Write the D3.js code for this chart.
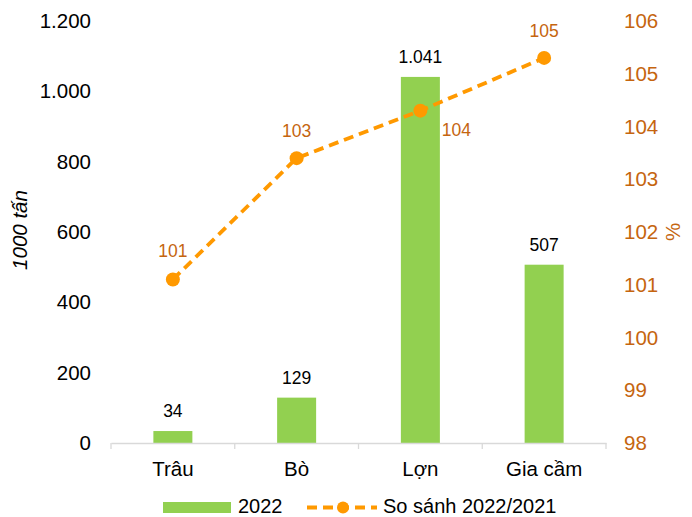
<!DOCTYPE html>
<html><head><meta charset="utf-8">
<script src="https://cdn.jsdelivr.net/npm/d3@7"></script>
<style>body{margin:0;background:#fff;} text{font-family:Arial,"Liberation Sans",sans-serif;}</style>
</head><body>
<svg id="c" width="692" height="517"></svg>
<script>
const categories = ["Trâu","Bò","Lợn","Gia cầm"];
const values2022 = [34,129,1041,507];
const barLabels = ["34","129","1.041","507"];
const ratio = [101.1,103.4,104.3,105.3];
const ratioLabels = ["101","103","104","105"];
const leftTicks = [0,200,400,600,800,1000,1200];
const rightTicks = [98,99,100,101,102,103,104,105,106];

const svg = d3.select("#c");
const L=111, R=606, T=21, B=443;
const x = d3.scaleBand().domain(categories).range([L,R]).paddingInner(0).paddingOuter(0);
const yL = d3.scaleLinear().domain([0,1200]).range([B,T]);
const yR = d3.scaleLinear().domain([98,106]).range([B,T]);
const fmt = d => d3.format(",")(d).replace(/,/g,".");
const orangeText = "#C5650F";

// left axis labels
const gl = svg.append("g").attr("transform",`translate(${L},0)`)
  .call(d3.axisLeft(yL).tickValues(leftTicks).tickFormat(fmt).tickSize(0).tickPadding(20));
gl.select(".domain").remove();
gl.selectAll("text").attr("font-size",20.5).attr("fill","#000").attr("font-family","Arial,'Liberation Sans',sans-serif");

// right axis labels
const gr = svg.append("g").attr("transform",`translate(${R},0)`)
  .call(d3.axisRight(yR).tickValues(rightTicks).tickFormat(d=>d).tickSize(0).tickPadding(18));
gr.select(".domain").remove();
gr.selectAll("text").attr("font-size",20.5).attr("fill",orangeText).attr("font-family","Arial,'Liberation Sans',sans-serif");

// bars
const bw = 39;
svg.selectAll(".bar").data(values2022).enter().append("rect")
  .attr("x",(d,i)=>x(categories[i])+x.bandwidth()/2-bw/2)
  .attr("y",d=>yL(d)).attr("width",bw).attr("height",d=>B-yL(d)).attr("fill","#92D050");

// x axis
const gx = svg.append("g").attr("transform",`translate(0,${B})`)
  .call(d3.axisBottom(x).tickSize(0).tickPadding(18));
gx.select(".domain").attr("stroke","#D9D9D9").attr("stroke-width",1.3);
gx.selectAll("text").attr("font-size",20.5).attr("fill","#000").attr("font-family","Arial,'Liberation Sans',sans-serif");
// boundary ticks
const bounds = categories.map(c=>x(c)).concat([R]);
svg.selectAll(".bt").data(bounds).enter().append("line")
  .attr("x1",d=>d).attr("x2",d=>d).attr("y1",B).attr("y2",B+6).attr("stroke","#D9D9D9").attr("stroke-width",1.3);

// bar labels
svg.selectAll(".bl").data(values2022).enter().append("text")
  .attr("x",(d,i)=>x(categories[i])+x.bandwidth()/2).attr("y",d=>yL(d)-14)
  .attr("text-anchor","middle").attr("font-size",17.5).attr("fill","#000").text((d,i)=>barLabels[i]);

// line
const cx = i => x(categories[i])+x.bandwidth()/2;
const line = d3.line().x((d,i)=>cx(i)).y(d=>yR(d));
svg.append("path").datum(ratio).attr("d",line).attr("fill","none")
  .attr("stroke","#FF9900").attr("stroke-width",3.8).attr("stroke-dasharray","10,6");
svg.selectAll(".pt").data(ratio).enter().append("circle")
  .attr("cx",(d,i)=>cx(i)).attr("cy",d=>yR(d)).attr("r",7).attr("fill","#FF9900");

// line labels
const lblOff = [[0,-22],[0,-21],[36,25],[0,-21]];
svg.selectAll(".ll").data(ratio).enter().append("text")
  .attr("x",(d,i)=>cx(i)+lblOff[i][0]).attr("y",(d,i)=>yR(d)+lblOff[i][1])
  .attr("text-anchor","middle").attr("font-size",17.5).attr("fill",orangeText).text((d,i)=>ratioLabels[i]);

// axis titles
svg.append("text").attr("transform","translate(27,230) rotate(-90)").attr("text-anchor","middle")
  .attr("font-size",20.5).attr("font-style","italic").attr("fill","#000").text("1000 tấn");
svg.append("text").attr("transform","translate(680,232) rotate(-90)").attr("text-anchor","middle")
  .attr("font-size",20.5).attr("fill",orangeText).text("%");

// legend
svg.append("rect").attr("x",163).attr("y",502).attr("width",68).attr("height",11).attr("fill","#92D050");
svg.append("text").attr("x",238).attr("y",513).attr("font-size",20).attr("fill","#000").text("2022");
svg.append("line").attr("x1",307).attr("x2",377).attr("y1",507.5).attr("y2",507.5)
  .attr("stroke","#FF9900").attr("stroke-width",3.8).attr("stroke-dasharray","10,6");
svg.append("circle").attr("cx",343).attr("cy",507.5).attr("r",6).attr("fill","#FF9900");
svg.append("text").attr("x",383).attr("y",513).attr("font-size",20).attr("fill","#000").text("So sánh 2022/2021");
</script>
</body></html>
